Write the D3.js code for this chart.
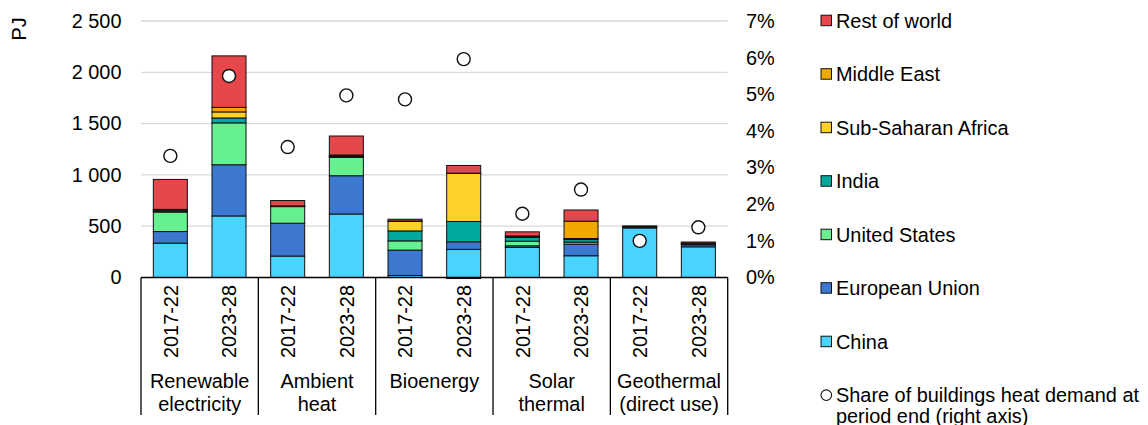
<!DOCTYPE html>
<html>
<head>
<meta charset="utf-8">
<script src="https://cdn.jsdelivr.net/npm/d3@7"></script>
<style>
  html, body { margin: 0; padding: 0; background: #fff; }
  svg { display: block; font-family: "Liberation Sans", Arial, sans-serif; }
</style>
</head>
<body>
<svg id="chart" width="1148" height="425"></svg>
<script>
// ---- Data ----
const categories = ["Renewable\nelectricity", "Ambient\nheat", "Bioenergy", "Solar\nthermal", "Geothermal\n(direct use)"];
const periods = ["2017-22", "2023-28"];
const seriesNames = ["China", "European Union", "United States", "India", "Sub-Saharan Africa", "Middle East", "Rest of world"];
const seriesColors = ["#48D4FF", "#3C78D0", "#66F08F", "#00A99D", "#FDD128", "#F0A800", "#E5474A"];
// values per bar in order: RE 17-22, RE 23-28, AH 17-22, AH 23-28, Bio 17-22, Bio 23-28, Sol 17-22, Sol 23-28, Geo 17-22, Geo 23-28 (PJ)
const china = [335, 600, 209, 619, 20, 274, 293, 212, 483, 299];
const eu = [113, 499, 320, 373, 247, 74, 16, 113, 8, 20];
const us = [190, 408, 162, 178, 90, -10, 45, 20, 4, 10];
const india = [6, 48, 3, 8, 97, 198, 36, 25, 0, 2];
const ssa = [10, 59, 1, 6, 92, 469, 5, 10, 0, 1];
const middleEast = [10, 44, 3, 10, 5, 2, 10, 169, 0, 2];
const restOfWorld = [292, 502, 52, 185, 17, 75, 40, 109, 8, 12];
// share of buildings heat demand at period end (%)
const share = [3.32, 5.50, 3.56, 4.97, 4.86, 5.96, 1.74, 2.40, 1.00, 1.37];
const leftTicks = [0, 500, 1000, 1500, 2000, 2500];
const rightTicks = [0, 1, 2, 3, 4, 5, 6, 7];
const shareLabel = ["Share of buildings heat demand at", "period end (right axis)"];

// ---- Build table ----
const seriesArrays = [china, eu, us, india, ssa, middleEast, restOfWorld];
const bars = [];
categories.forEach((c, ci) => periods.forEach((p, pi) => {
  const i = ci * 2 + pi;
  const row = { key: c + "|" + p, cat: c, period: p, share: share[i] };
  seriesNames.forEach((s, si) => row[s] = seriesArrays[si][i]);
  bars.push(row);
}));

const svg = d3.select("#chart");
const FONT = 19.9;
const m = { left: 141, right: 727.7, top: 21, bottom: 277.5 };

const x = d3.scaleBand().domain(bars.map(d => d.key)).range([m.left, m.right]).paddingInner(0.42).paddingOuter(0.21);
const y = d3.scaleLinear().domain([0, 2500]).range([m.bottom, m.top]);
const y2 = d3.scaleLinear().domain([0, 7]).range([m.bottom, m.top]);

// gridlines
svg.append("g").selectAll("line").data(leftTicks.filter(t => t > 0)).join("line")
  .attr("x1", m.left).attr("x2", m.right)
  .attr("y1", d => y(d)).attr("y2", d => y(d))
  .attr("stroke", "#d9d9d9").attr("stroke-width", 1.3);

// left axis
const yAxis = d3.axisLeft(y).tickValues(leftTicks).tickSize(0).tickPadding(0)
  .tickFormat(d => d3.format(",")(d).replace(/,/g, "\u00a0"));
const gy = svg.append("g").attr("transform", `translate(${121.5},0)`).call(yAxis);
gy.select(".domain").remove();
gy.selectAll("text").attr("font-size", FONT).attr("fill", "#000").attr("font-family", "Liberation Sans, Arial, sans-serif");

// right axis
const y2Axis = d3.axisRight(y2).tickValues(rightTicks).tickSize(0).tickPadding(0).tickFormat(d => d + "%");
const gy2 = svg.append("g").attr("transform", `translate(${746},0)`).call(y2Axis);
gy2.select(".domain").remove();
gy2.selectAll("text").attr("font-size", FONT).attr("fill", "#000").attr("font-family", "Liberation Sans, Arial, sans-serif");

// PJ label
svg.append("text").attr("transform", "translate(26,29) rotate(-90)")
  .attr("text-anchor", "middle").attr("font-size", FONT).text("PJ");

// stacked bars
const stack = d3.stack().keys(seriesNames).offset(d3.stackOffsetDiverging);
const stacked = stack(bars);
svg.append("g").selectAll("g").data(stacked).join("g")
  .attr("fill", (d, i) => seriesColors[i])
  .selectAll("rect").data(d => d.map(v => ({ v, key: v.data.key }))).join("rect")
  .attr("x", d => x(d.key))
  .attr("width", x.bandwidth())
  .attr("y", d => y(Math.max(d.v[0], d.v[1])))
  .attr("height", d => Math.abs(y(d.v[0]) - y(d.v[1])))
  .attr("stroke", "#111").attr("stroke-width", 1);

// x axis line and separators
const groupW = (m.right - m.left) / categories.length;
svg.append("line").attr("x1", m.left).attr("x2", m.right).attr("y1", m.bottom).attr("y2", m.bottom)
  .attr("stroke", "#000").attr("stroke-width", 1.3);
svg.append("g").selectAll("line").data(d3.range(categories.length + 1)).join("line")
  .attr("x1", i => m.left + i * groupW).attr("x2", i => m.left + i * groupW)
  .attr("y1", m.bottom).attr("y2", 415)
  .attr("stroke", "#000").attr("stroke-width", 1.3);

// period labels
svg.append("g").selectAll("text").data(bars).join("text")
  .attr("transform", d => `translate(${x(d.key) + x.bandwidth() / 2},${285}) rotate(-90)`)
  .attr("text-anchor", "end").attr("dy", "0.36em").attr("font-size", FONT)
  .text(d => d.period);

// category labels
categories.forEach((c, ci) => {
  const lines = c.split("\n");
  const t = svg.append("text").attr("text-anchor", "middle").attr("font-size", FONT)
    .attr("x", m.left + (ci + 0.5) * groupW);
  lines.forEach((l, li) => t.append("tspan").attr("x", m.left + (ci + 0.5) * groupW)
    .attr("y", 388 + li * 23).text(l));
});

// share markers
svg.append("g").selectAll("circle").data(bars).join("circle")
  .attr("cx", d => x(d.key) + x.bandwidth() / 2)
  .attr("cy", d => y2(d.share))
  .attr("r", 6.5).attr("fill", "#fff").attr("stroke", "#111").attr("stroke-width", 1.4);

// legend
const legendOrder = seriesNames.map((s, i) => ({ s, c: seriesColors[i] })).reverse();
const lg = svg.append("g");
legendOrder.forEach((d, i) => {
  const cy = 20.7 + i * 53.5;
  lg.append("rect").attr("x", 821).attr("y", cy - 5.5).attr("width", 10.5).attr("height", 10.5)
    .attr("fill", d.c).attr("stroke", "#111").attr("stroke-width", 1);
  lg.append("text").attr("x", 836).attr("y", cy).attr("dy", "0.36em").attr("font-size", FONT).text(d.s);
});
const sy = 20.7 + 7 * 53.5;
lg.append("circle").attr("cx", 826.3).attr("cy", sy).attr("r", 5.3)
  .attr("fill", "#fff").attr("stroke", "#111").attr("stroke-width", 1.1);
shareLabel.forEach((l, li) => lg.append("text").attr("x", 836).attr("y", sy + li * 20.5)
  .attr("dy", "0.36em").attr("font-size", FONT).text(l));
</script>
</body>
</html>
